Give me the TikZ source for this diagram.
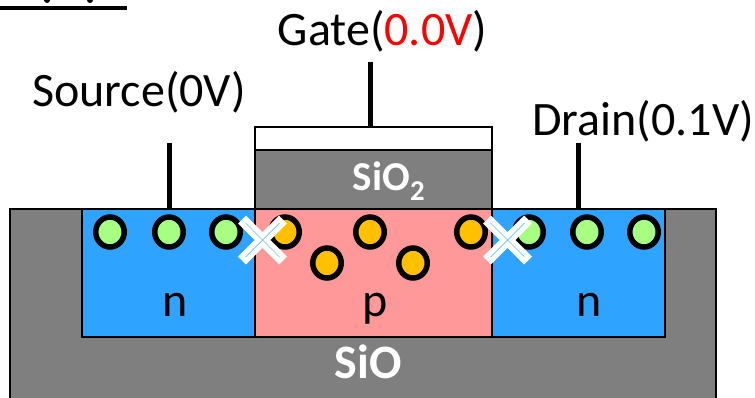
\documentclass[tikz,border=0pt]{standalone}
\usepackage{fontspec}
\setmainfont{Carlito}
\definecolor{gry}{RGB}{127,127,127}
\definecolor{blu}{RGB}{46,163,255}
\definecolor{pnk}{RGB}{255,153,153}
\definecolor{grn}{RGB}{166,255,128}
\definecolor{org}{RGB}{255,192,0}
\tikzset{
 x=1pt,y=-1pt,
 region/.style={draw=black,line width=2pt,outer sep=0pt,inner sep=0pt,anchor=north west},
 lead/.style={draw=black,line width=5pt},
 elec/.style={ellipse,draw=black,line width=5.5pt,fill=grn,minimum width=28.5pt,minimum height=30pt,inner sep=0pt},
 hole/.style={ellipse,draw=black,line width=5.5pt,fill=org,minimum width=28.5pt,minimum height=30pt,inner sep=0pt},
 lbl/.style={font=\fontsize{48}{48}\selectfont,inner sep=0pt,anchor=base},
 wlbl/.style={font=\fontsize{48}{48}\selectfont\bfseries,text=white,inner sep=0pt,anchor=base},
 xbar/.style={draw=white,line width=11pt},
 xthin/.style={draw=blu!70!white,line width=0.7pt},
}
\usetikzlibrary{shapes.geometric}
\begin{document}
\begin{tikzpicture}
\useasboundingbox[fill=white] (0,0) rectangle (755,397);
\begin{scope}
\clip (0,0) rectangle (755,397);
% top underline
\fill (0,6) rectangle (127,10);
\fill (2,-4) arc[start angle=180,end angle=360,x radius=13,y radius=7] -- cycle;
\fill (47,0) circle (3);
\fill (90,0) circle (3);
% substrate
\draw[draw=black,line width=2pt,fill=gry] (10,400) -- (10,209) -- (716,209) -- (716,400);
% regions
\node[region,fill=blu,minimum width=173pt,minimum height=128pt] (ns) at (82,209) {};
\node[region,fill=blu,minimum width=173pt,minimum height=128pt] (nd) at (492,209) {};
\node[region,fill=pnk,minimum width=237pt,minimum height=128pt] (pr) at (255,209) {};
\node[region,fill=gry,minimum width=237pt,minimum height=59pt] (ox) at (255,150) {};
\node[region,fill=white,minimum width=237pt,minimum height=23pt] (gt) at (255,127) {};
% terminals
\coordinate (gtop) at (370,62);
\coordinate (stop) at (169,143);
\coordinate (dtop) at (578,143);
\draw[lead] (gtop) -- (gtop |- gt.north);
\draw[lead] (stop) -- (stop |- ns.north);
\draw[lead] (dtop) -- (dtop |- nd.north);
% labels
\node[lbl] (lg) at (382.5,45) {Gate(\textcolor{red}{0.0V})};
\node[lbl] (ls) at (139,106) {Source(0V)};
\node[lbl] (ld) at (643,135) {Drain(0.1V)};
\node[wlbl,font=\fontsize{41}{41}\selectfont\bfseries] (lox) at (389,190) {SiO\textsubscript{2}};
\node[wlbl] (lsio) at (368,378) {SiO};
\node[lbl] (ln1) at (175,316) {n};
\node[lbl] (lp) at (375,316) {p};
\node[lbl] (ln2) at (589,316) {n};
% carriers
\node[elec] (e1) at (110,232) {};
\node[elec] (e2) at (169,232) {};
\node[elec] (e3) at (226,232) {};
\node[elec] (e4) at (529,232) {};
\node[elec] (e5) at (587,232) {};
\node[elec] (e6) at (644,232) {};
\node[hole] (h1) at (285,232) {};
\node[hole] (h2) at (327,263) {};
\node[hole] (h3) at (370,232) {};
\node[hole] (h4) at (413,263) {};
\node[hole] (h5) at (471,232) {};
% crosses
\foreach \cx in {262.5,507.5}{
 \draw[xbar] (\cx-20.5,219.5) -- (\cx+20.5,260.5);
 \draw[xbar] (\cx-20.5,260.5) -- (\cx+20.5,219.5);
 \draw[xthin] (\cx-17,223) -- (\cx+17,257);
 \draw[xthin] (\cx-17,257) -- (\cx+17,223);
}
\end{scope}
\end{tikzpicture}
\end{document}
